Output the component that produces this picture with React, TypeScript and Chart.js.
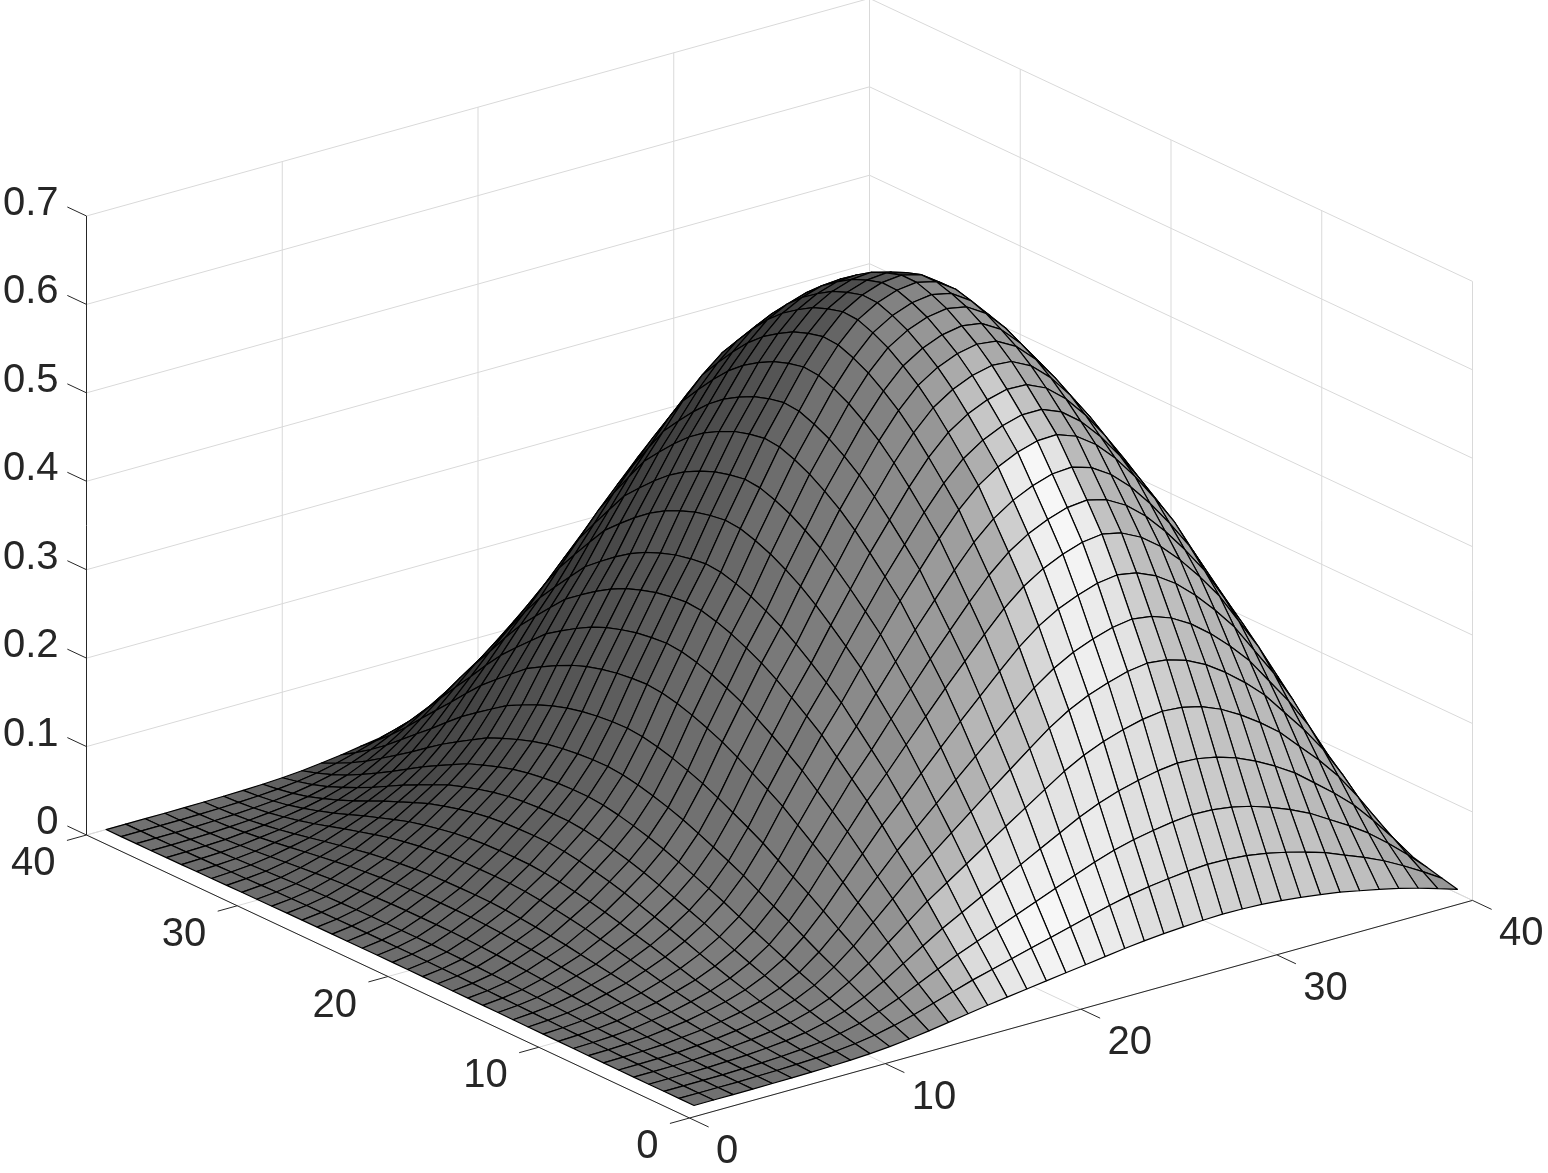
import React, { useEffect, useRef } from "react";
import { Chart, registerables } from "chart.js";

Chart.register(...registerables);

// Values: grid positions, two profiles across x (front/back rows and middle rows),
// the profile across y, and how far each row has moved from the first x profile to the second.
const gridPositions = [1,2,3,4,5,6,7,8,9,10,11,12,13,14,15,16,17,18,19,20,21,22,23,24,25,26,27,28,29,30,31,32,33,34,35,36,37,38,39,40];
const profileXEdge = [0,0,0,0,.004,.008,.015,.025,.04,.065,.1,.15,.21,.28,.35,.42,.48,.54,.6,.66,.72,.78,.84,.89,.93,.96,.985,1,.995,.975,.94,.89,.83,.76,.67,.58,.48,.36,.23,.09];
const profileXMiddle = [.003,.008,.016,.03,.047,.065,.09,.115,.145,.175,.21,.255,.315,.385,.45,.515,.575,.645,.71,.775,.83,.885,.93,.965,.985,.997,1,.99,.965,.925,.875,.82,.76,.70,.63,.56,.47,.36,.23,.09];
const profileY = [.081,.159,.237,.318,.40,.475,.543,.611,.673,.723,.771,.818,.852,.885,.915,.94,.96,.978,.99,.999,.999,.99,.978,.96,.94,.915,.885,.852,.818,.771,.723,.673,.611,.543,.475,.40,.318,.237,.159,.081];
const rowMix = [0,.01,.03,.06,.1,.15,.2,.26,.32,.39,.46,.53,.6,.66,.72,.78,.83,.87,.91,.94,.965,.98,.99,1,1,.99,.97,.94,.9,.84,.77,.69,.6,.5,.4,.3,.2,.12,.05,0];
const peakHeight = 0.62;

const xTicks = [0, 10, 20, 30, 40];
const yTicks = [0, 10, 20, 30, 40];
const zTicks = [0, 0.1, 0.2, 0.3, 0.4, 0.5, 0.6, 0.7];
const xTickLabels = ["0", "10", "20", "30", "40"];
const yTickLabels = ["0", "10", "20", "30", "40"];
const zTickLabels = ["0", "0.1", "0.2", "0.3", "0.4", "0.5", "0.6", "0.7"];

const AXIS = "#262626";
const GRID = "#d9d9d9";
const X_MAX = 40, Y_MAX = 40, Z_MAX = 0.7;

// orthographic view of the 3-D box, onto the plane of the two hidden linear scales
const project = (x: number, y: number, z: number) => ({
  x: 689.5 + 19.575 * x - 15.075 * y,
  y: 1118 - 5.44 * x - 7.075 * y - 884.3 * z,
});

const height = (i: number, j: number) =>
  peakHeight * profileY[j] * ((1 - rowMix[j]) * profileXEdge[i] + rowMix[j] * profileXMiddle[i]);

function facetGray(i: number, j: number) {
  const dx = (height(i + 1, j) + height(i + 1, j + 1) - height(i, j) - height(i, j + 1)) / 2;
  const dy = (height(i, j + 1) + height(i + 1, j + 1) - height(i, j) - height(i + 1, j)) / 2;
  const zx = (dx * X_MAX) / Z_MAX, zy = (dy * Y_MAX) / Z_MAX;
  const len = Math.hypot(zx, zy, 1);
  const n = [-zx / len, -zy / len, 1 / len];
  const s = [-0.2, -0.85, 0.49];
  const sl = Math.hypot(s[0], s[1], s[2]);
  const spec = Math.max(0, (n[0] * s[0] + n[1] * s[1] + n[2] * s[2]) / sl);
  const v = 0.45 + 0.07 * n[0] - 0.31 * n[1] - 0.01 * n[2] + 0.27 * Math.pow(spec, 30);
  const level = Math.round(Math.min(1, Math.max(0, v)) * 63) / 63;
  const c = Math.round(level * 255);
  return `rgb(${c},${c},${c})`;
}

function segment(a: number[], b: number[], color: string, width = 1) {
  return {
    data: [project(a[0], a[1], a[2]), project(b[0], b[1], b[2])],
    borderColor: color,
    borderWidth: width,
    pointRadius: 0,
    fill: false,
    showLine: true,
  };
}

function buildDatasets() {
  const sets: any[] = [];
  // surface: first dataset is painted last, so nearest facets come first
  for (let j = 0; j < gridPositions.length - 1; j++) {
    for (let i = 0; i < gridPositions.length - 1; i++) {
      const xa = gridPositions[i], xb = gridPositions[i + 1];
      const ya = gridPositions[j], yb = gridPositions[j + 1];
      const gray = facetGray(i, j);
      sets.push({
        data: [
          project(xa, ya, height(i, j)),
          project(xb, ya, height(i + 1, j)),
          project(xb, yb, height(i + 1, j + 1)),
          project(xa, yb, height(i, j + 1)),
          project(xa, ya, height(i, j)),
        ],
        borderColor: "#000000",
        borderWidth: 1.2,
        backgroundColor: gray,
        fill: "shape",
        pointRadius: 0,
        showLine: true,
        borderJoinStyle: "round",
      });
    }
  }
  // box edges and tick marks
  sets.push(segment([0, 0, 0], [X_MAX, 0, 0], AXIS));
  sets.push(segment([0, 0, 0], [0, Y_MAX, 0], AXIS));
  sets.push(segment([0, Y_MAX, 0], [0, Y_MAX, Z_MAX], AXIS));
  xTicks.forEach((t) => sets.push(segment([t, 0, 0], [t, -1.27, 0], AXIS)));
  yTicks.forEach((t) => sets.push(segment([0, t, 0], [-1, t, 0], AXIS)));
  zTicks.forEach((t) => sets.push(segment([0, Y_MAX, t], [0, Y_MAX + 1.27, t], AXIS)));
  // grid lines on floor and the two back walls
  xTicks.forEach((t) => {
    sets.push(segment([t, 0, 0], [t, Y_MAX, 0], GRID));
    sets.push(segment([t, Y_MAX, 0], [t, Y_MAX, Z_MAX], GRID));
  });
  yTicks.forEach((t) => {
    sets.push(segment([0, t, 0], [X_MAX, t, 0], GRID));
    sets.push(segment([X_MAX, t, 0], [X_MAX, t, Z_MAX], GRID));
  });
  zTicks.forEach((t) => {
    sets.push(segment([0, Y_MAX, t], [X_MAX, Y_MAX, t], GRID));
    sets.push(segment([X_MAX, Y_MAX, t], [X_MAX, 0, t], GRID));
  });
  return sets;
}

const tickLabelPlugin = {
  id: "tickLabels3d",
  afterDraw(chart: any) {
    const { ctx, scales } = chart;
    const at = (p: { x: number; y: number }) => [scales.x.getPixelForValue(p.x), scales.y.getPixelForValue(p.y)];
    ctx.save();
    ctx.fillStyle = AXIS;
    ctx.font = '40px "Liberation Sans"';
    ctx.textBaseline = "middle";
    ctx.textAlign = "right";
    zTicks.forEach((t, k) => {
      const [px, py] = at(project(0, Y_MAX, t));
      ctx.fillText(zTickLabels[k], px - 28, py - 12);
    });
    yTicks.forEach((t, k) => {
      const [px, py] = at(project(0, t, 0));
      ctx.fillText(yTickLabels[k], px - 31, py + 29);
    });
    ctx.textAlign = "left";
    xTicks.forEach((t, k) => {
      const [px, py] = at(project(t, 0, 0));
      ctx.fillText(xTickLabels[k], px + 26.5, py + 34);
    });
    ctx.restore();
  },
};

export default function App() {
  const ref = useRef<HTMLCanvasElement>(null);
  useEffect(() => {
    document.body.style.margin = "0";
    const chart = new Chart(ref.current as HTMLCanvasElement, {
      type: "scatter",
      data: { datasets: buildDatasets() },
      options: {
        animation: false,
        responsive: false,
        events: [],
        layout: { padding: 0 },
        elements: { line: { tension: 0 } },
        plugins: { legend: { display: false }, tooltip: { enabled: false }, title: { display: false } },
        scales: {
          x: { type: "linear", min: 0, max: 1548, display: false },
          y: { type: "linear", min: 0, max: 1173, reverse: true, display: false },
        },
      },
      plugins: [tickLabelPlugin],
    } as any);
    return () => chart.destroy();
  }, []);
  return <canvas ref={ref} width={1548} height={1173} style={{ display: "block" }} />;
}
